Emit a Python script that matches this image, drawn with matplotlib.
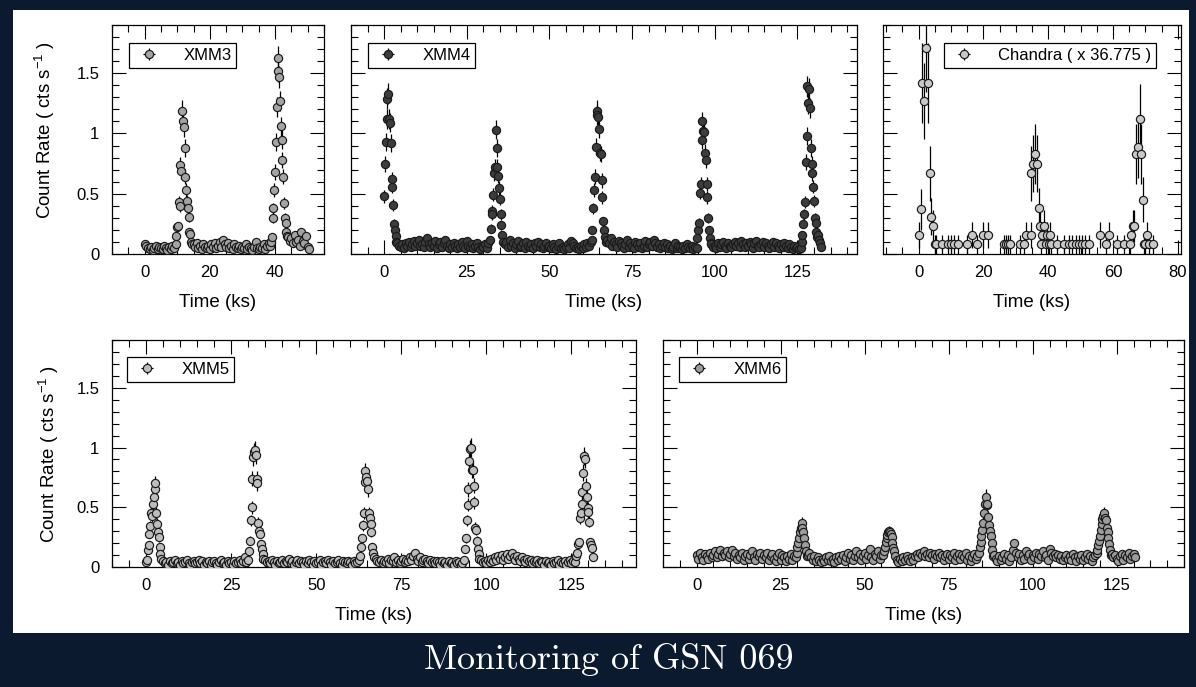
"""
GSN 069 quasi-periodic eruptions: XMM-Newton and Chandra light curves.
"""

import numpy as np
import matplotlib
matplotlib.use("Agg")
import matplotlib.pyplot as plt
from matplotlib.container import ErrorbarContainer
from matplotlib.legend_handler import HandlerErrorbar
from matplotlib.patches import Rectangle
from matplotlib.ticker import MultipleLocator, FuncFormatter

plt.rcParams["font.family"] = ["Liberation Sans", "DejaVu Sans"]
plt.rcParams["mathtext.fontset"] = "custom"
plt.rcParams["mathtext.rm"] = "Liberation Sans"
plt.rcParams["mathtext.it"] = "Liberation Sans:italic"
plt.rcParams["mathtext.default"] = "regular"

W, H = 1196, 687
NAVY = "#0b1a2f"

# counting statistics used for the error bars
XMM_BIN_S = 170.0
CHANDRA_BIN_S = 480.0
CHANDRA_SCALE = 36.775

QUIET_DT = 0.5   # ks, quiescent sampling (None = inside an eruption)
QPE_DT = 0.25    # ks, sampling inside the eruptions

# ---------------- XMM3 ----------------
xmm3_quiet = [
    0.08, 0.07, 0.05, 0.04, 0.06, 0.03, 0.05, 0.07, 0.04, 0.06,   # 0
    0.05, 0.04, 0.07, 0.05, 0.03, 0.06, 0.04, 0.07, 0.05, None,   # 5
    None, None, None, None, None, None, None, None, None, None,   # 10
    0.08, 0.06, 0.09, 0.05, 0.07, 0.04, 0.08, 0.06, 0.05, 0.07,   # 15
    0.04, 0.08, 0.06, 0.09, 0.05, 0.07, 0.10, 0.06, 0.12, 0.08,   # 20
    0.06, 0.09, 0.05, 0.07, 0.04, 0.08, 0.06, 0.05, 0.07, 0.04,   # 25
    0.06, 0.05, 0.08, 0.04, 0.06, 0.05, 0.03, 0.06, 0.10, 0.05,   # 30
    0.04, 0.06, 0.05, 0.08, 0.04, 0.07, 0.09, None, None, None,   # 35
    None, None, None, None, None, None, None, None, 0.14, 0.11,   # 40
    0.13, 0.09, 0.16, 0.10, 0.12, 0.07, 0.18, 0.11, 0.09, 0.15,   # 45
    0.06, 0.04,                                                   # 50
]
xmm3_qpe_start = [9.5, 38.5]
xmm3_qpe_rate = [
    [0.08, 0.15, 0.22, 0.23, 0.43, 0.40, 0.74, 0.69, 1.19, 1.10, 1.05,
     0.88, 0.64, 0.53, 0.44, 0.38, 0.31, 0.18, 0.17, 0.10, 0.08],
    [0.07, 0.10, 0.14, 0.38, 0.30, 0.53, 0.68, 0.93, 1.22, 1.52, 1.63,
     1.47, 1.27, 1.06, 0.95, 0.78, 0.64, 0.42, 0.30, 0.26, 0.18, 0.15],
]

# ---------------- XMM4 ----------------
xmm4_quiet = [
    None, None, None, None, None, None, None, None, 0.09, 0.07,   # 0
    0.06, 0.08, 0.05, 0.09, 0.07, 0.10, 0.06, 0.08, 0.11, 0.07,   # 5
    0.09, 0.12, 0.07, 0.08, 0.06, 0.10, 0.13, 0.08, 0.06, 0.09,   # 10
    0.07, 0.11, 0.05, 0.08, 0.10, 0.06, 0.09, 0.12, 0.07, 0.05,   # 15
    0.08, 0.06, 0.09, 0.07, 0.05, 0.08, 0.06, 0.10, 0.07, 0.05,   # 20
    0.11, 0.07, 0.06, 0.08, 0.05, 0.07, 0.09, 0.06, 0.04, 0.07,   # 25
    0.06, 0.08, 0.05, 0.09, None, None, None, None, None, None,   # 30
    None, None, None, 0.08, 0.10, 0.06, 0.12, 0.07, 0.09, 0.05,   # 35
    0.08, 0.11, 0.06, 0.07, 0.09, 0.05, 0.10, 0.07, 0.06, 0.08,   # 40
    0.05, 0.09, 0.07, 0.10, 0.06, 0.08, 0.05, 0.07, 0.09, 0.06,   # 45
    0.07, 0.05, 0.08, 0.06, 0.04, 0.07, 0.09, 0.05, 0.06, 0.04,   # 50
    0.06, 0.08, 0.05, 0.11, 0.09, 0.07, 0.05, 0.06, 0.04, 0.07,   # 55
    0.05, 0.08, 0.06, 0.09, 0.07, 0.10, None, None, None, None,   # 60
    None, None, None, None, None, 0.12, 0.09, 0.13, 0.07, 0.10,   # 65
    0.08, 0.06, 0.11, 0.09, 0.07, 0.05, 0.08, 0.12, 0.06, 0.09,   # 70
    0.07, 0.05, 0.10, 0.08, 0.06, 0.09, 0.05, 0.07, 0.11, 0.06,   # 75
    0.08, 0.10, 0.07, 0.12, 0.09, 0.06, 0.08, 0.05, 0.07, 0.09,   # 80
    0.06, 0.08, 0.05, 0.07, 0.04, 0.06, 0.09, 0.05, 0.07, 0.06,   # 85
    0.04, 0.07, 0.05, 0.08, 0.06, 0.05, 0.07, 0.04, 0.06, 0.05,   # 90
    None, None, None, None, None, None, None, None, 0.08, 0.06,   # 95
    0.07, 0.05, 0.09, 0.06, 0.08, 0.10, 0.07, 0.05, 0.09, 0.07,   # 100
    0.06, 0.08, 0.10, 0.07, 0.09, 0.06, 0.11, 0.08, 0.06, 0.09,   # 105
    0.07, 0.10, 0.08, 0.05, 0.09, 0.11, 0.07, 0.06, 0.08, 0.10,   # 110
    0.06, 0.09, 0.07, 0.05, 0.08, 0.10, 0.06, 0.09, 0.07, 0.05,   # 115
    0.08, 0.06, 0.09, 0.07, 0.05, 0.08, 0.06, 0.04, 0.07, 0.05,   # 120
    0.06, 0.04,                                                   # 125
]
xmm4_qpe_start = [0.0, 32.0, 62.75, 94.75, 126.0]
xmm4_qpe_rate = [
    [0.48, 0.75, 0.93, 1.12, 1.29, 1.33, 1.12, 1.09, 0.92, 0.62, 0.56,
     0.41, 0.25, 0.20, 0.15, 0.10],
    [0.12, 0.21, 0.36, 0.33, 0.49, 0.67, 0.72, 1.03, 0.88, 0.72, 0.65,
     0.55, 0.46, 0.33, 0.24, 0.16, 0.10],
    [0.12, 0.20, 0.38, 0.53, 0.64, 0.89, 1.19, 1.15, 1.14, 1.04, 0.84,
     0.83, 0.61, 0.47, 0.27, 0.20, 0.14, 0.10],
    [0.13, 0.20, 0.26, 0.51, 0.58, 0.95, 1.10, 1.02, 1.01, 0.84, 0.78,
     0.58, 0.47, 0.30, 0.20, 0.13, 0.09],
    [0.05, 0.10, 0.16, 0.25, 0.33, 0.43, 0.76, 0.98, 1.39, 1.25, 1.37,
     1.21, 0.88, 0.75, 0.67, 0.56, 0.44, 0.30, 0.26, 0.18, 0.14, 0.16,
     0.12, 0.09, 0.06],
]

# ---------------- XMM5 ----------------
xmm5_quiet = [
    None, None, None, None, None, None, None, None, None, None,   # 0
    0.05, 0.03, 0.04, 0.02, 0.05, 0.03, 0.04, 0.06, 0.03, 0.04,   # 5
    0.02, 0.05, 0.03, 0.04, 0.06, 0.03, 0.02, 0.04, 0.05, 0.03,   # 10
    0.04, 0.06, 0.03, 0.05, 0.02, 0.04, 0.03, 0.05, 0.02, 0.04,   # 15
    0.05, 0.03, 0.02, 0.04, 0.06, 0.03, 0.04, 0.02, 0.05, 0.03,   # 20
    0.04, 0.02, 0.05, 0.03, 0.04, 0.06, 0.03, 0.05, 0.08, 0.04,   # 25
    None, None, None, None, None, None, None, None, None, None,   # 30
    0.06, 0.04, 0.05, 0.03, 0.06, 0.04, 0.02, 0.05, 0.03, 0.04,   # 35
    0.06, 0.03, 0.05, 0.04, 0.07, 0.03, 0.05, 0.02, 0.04, 0.06,   # 40
    0.03, 0.05, 0.04, 0.02, 0.05, 0.03, 0.06, 0.04, 0.02, 0.05,   # 45
    0.03, 0.04, 0.06, 0.02, 0.04, 0.05, 0.03, 0.06, 0.04, 0.02,   # 50
    0.05, 0.03, 0.04, 0.06, 0.03, 0.02, 0.05, 0.04, 0.03, 0.05,   # 55
    0.04, 0.02, 0.05, 0.03, 0.04, 0.06, None, None, None, None,   # 60
    None, None, None, None, None, 0.07, 0.05, 0.04, 0.06, 0.03,   # 65
    0.05, 0.04, 0.07, 0.03, 0.06, 0.05, 0.08, 0.04, 0.06, 0.03,   # 70
    0.05, 0.07, 0.04, 0.06, 0.05, 0.08, 0.06, 0.09, 0.12, 0.07,   # 75
    0.05, 0.08, 0.04, 0.06, 0.07, 0.05, 0.03, 0.06, 0.04, 0.05,   # 80
    0.03, 0.05, 0.04, 0.02, 0.05, 0.03, 0.04, 0.02, 0.05, 0.03,   # 85
    0.04, 0.02, 0.05, 0.03, 0.04, 0.02, 0.03, None, None, None,   # 90
    None, None, None, None, None, None, None, 0.06, 0.04, 0.05,   # 95
    0.03, 0.06, 0.04, 0.07, 0.05, 0.08, 0.06, 0.09, 0.07, 0.10,   # 100
    0.06, 0.08, 0.11, 0.07, 0.09, 0.12, 0.08, 0.06, 0.09, 0.07,   # 105
    0.05, 0.08, 0.06, 0.04, 0.07, 0.05, 0.06, 0.03, 0.05, 0.04,   # 110
    0.06, 0.03, 0.05, 0.04, 0.02, 0.05, 0.03, 0.04, 0.02, 0.05,   # 115
    0.03, 0.04, 0.06, 0.02, 0.04, 0.03, 0.05, 0.02, 0.04, 0.06,   # 120
    0.03, 0.05, 0.04,                                             # 125
]
xmm5_qpe_start = [0.0, 30.0, 63.0, 93.5, 126.5]
xmm5_qpe_rate = [
    [0.04, 0.06, 0.14, 0.18, 0.28, 0.34, 0.45, 0.43, 0.53, 0.59, 0.65,
     0.70, 0.45, 0.36, 0.29, 0.25, 0.17, 0.11, 0.07],
    [0.06, 0.13, 0.22, 0.39, 0.50, 0.74, 0.92, 0.96, 0.98, 0.94, 0.74,
     0.70, 0.37, 0.30, 0.28, 0.19, 0.15, 0.11, 0.07],
    [0.09, 0.17, 0.24, 0.35, 0.45, 0.71, 0.80, 0.75, 0.72, 0.65, 0.45,
     0.41, 0.36, 0.29, 0.17, 0.12, 0.08],
    [0.06, 0.15, 0.24, 0.39, 0.52, 0.65, 0.89, 0.99, 1.00, 0.81, 0.81,
     0.68, 0.54, 0.33, 0.31, 0.22, 0.15, 0.11, 0.07],
    [0.09, 0.12, 0.19, 0.21, 0.41, 0.45, 0.53, 0.63, 0.79, 0.93, 0.90,
     0.68, 0.59, 0.49, 0.46, 0.38, 0.21, 0.18, 0.16, 0.08],
]

# ---------------- XMM6 ----------------
xmm6_quiet = [
    0.10, 0.07, 0.12, 0.08, 0.06, 0.11, 0.09, 0.07, 0.12, 0.08,   # 0
    0.10, 0.13, 0.08, 0.11, 0.14, 0.09, 0.12, 0.10, 0.13, 0.08,   # 5
    0.11, 0.14, 0.09, 0.12, 0.07, 0.10, 0.08, 0.12, 0.06, 0.09,   # 10
    0.11, 0.07, 0.10, 0.13, 0.08, 0.06, 0.11, 0.09, 0.12, 0.07,   # 15
    0.10, 0.08, 0.12, 0.06, 0.09, 0.11, 0.07, 0.05, 0.09, 0.12,   # 20
    0.06, 0.10, 0.08, 0.05, 0.09, 0.07, 0.11, 0.06, 0.09, None,   # 25
    None, None, None, None, None, None, 0.10, 0.12, 0.08, 0.06,   # 30
    0.09, 0.05, 0.08, 0.06, 0.04, 0.07, 0.05, 0.08, 0.06, 0.09,   # 35
    0.05, 0.07, 0.04, 0.08, 0.06, 0.09, 0.07, 0.10, 0.05, 0.08,   # 40
    0.12, 0.07, 0.10, 0.06, 0.09, 0.13, 0.08, 0.11, 0.06, 0.09,   # 45
    0.12, 0.07, 0.10, 0.15, 0.08, 0.06, 0.11, 0.09, 0.13, 0.07,   # 50
    0.10, None, None, None, None, None, None, None, None, 0.06,   # 55
    0.04, 0.07, 0.05, 0.08, 0.06, 0.09, 0.07, 0.05, 0.08, 0.06,   # 60
    0.09, 0.11, 0.08, 0.12, 0.10, 0.13, 0.09, 0.11, 0.08, 0.12,   # 65
    0.10, 0.07, 0.11, 0.09, 0.12, 0.08, 0.10, 0.06, 0.09, 0.11,   # 70
    0.07, 0.10, 0.08, 0.12, 0.06, 0.09, 0.11, 0.07, 0.10, 0.08,   # 75
    0.12, 0.06, 0.09, 0.05, 0.08, 0.11, 0.07, 0.09, None, None,   # 80
    None, None, None, None, None, None, None, 0.10, 0.07, 0.05,   # 85
    0.09, 0.06, 0.08, 0.11, 0.07, 0.10, 0.05, 0.08, 0.14, 0.20,   # 90
    0.12, 0.08, 0.11, 0.06, 0.10, 0.07, 0.13, 0.09, 0.11, 0.06,   # 95
    0.10, 0.08, 0.12, 0.07, 0.11, 0.09, 0.13, 0.08, 0.10, 0.06,   # 100
    0.15, 0.12, 0.09, 0.11, 0.08, 0.10, 0.07, 0.09, 0.06, 0.08,   # 105
    0.10, 0.07, 0.09, 0.06, 0.11, 0.08, 0.05, 0.09, 0.07, 0.10,   # 110
    0.06, 0.08, 0.11, 0.07, 0.09, 0.05, 0.08, 0.10, None, None,   # 115
    None, None, None, None, None, None, None, 0.11, 0.08, 0.10,   # 120
    0.07, 0.05, 0.09, 0.11, 0.06, 0.10, 0.08, 0.12, 0.07, 0.09,   # 125
    0.11, 0.08,                                                   # 130
]
xmm6_qpe_start = [29.5, 55.5, 84.0, 119.0]
xmm6_qpe_rate = [
    [0.08, 0.12, 0.17, 0.20, 0.24, 0.29, 0.33, 0.37, 0.33, 0.29, 0.24,
     0.18, 0.13, 0.09],
    [0.10, 0.13, 0.17, 0.21, 0.24, 0.27, 0.29, 0.30, 0.29, 0.28, 0.25,
     0.20, 0.16, 0.13, 0.09],
    [0.12, 0.17, 0.21, 0.26, 0.31, 0.37, 0.45, 0.53, 0.59, 0.52, 0.53,
     0.42, 0.35, 0.30, 0.26, 0.20, 0.14, 0.09],
    [0.12, 0.14, 0.18, 0.22, 0.26, 0.31, 0.36, 0.40, 0.43, 0.45, 0.41,
     0.39, 0.33, 0.29, 0.24, 0.19, 0.14, 0.10],
]

# ---------------- Chandra (rates already multiplied by 36.775) ----------------
chandra_time = [
    0.0, 0.8, 1.1, 1.6, 2.4, 3.0, 3.5, 3.9, 4.4, 4.9, 5.5, 7.3, 9.1, 9.9,
    10.9, 12.3, 14.8, 16.6, 18.1, 19.8, 21.5, 26.5, 27.0, 27.5, 28.1, 31.3,
    32.5, 33.0, 34.6, 34.8, 35.4, 35.9, 36.6, 37.1, 37.6, 37.8, 38.2, 38.7,
    39.2, 39.7, 40.2, 40.7, 40.9, 42.6, 44.8, 46.4, 47.5, 48.5, 49.5, 50.5,
    51.5, 52.6, 56.0, 57.7, 58.7, 61.1, 63.4, 65.2, 65.6, 66.1, 66.6, 67.2,
    67.7, 68.3, 68.8, 69.3, 69.5, 69.9, 70.6, 71.1, 72.4,
]
chandra_rate = [
    0.155, 0.37, 1.42, 1.27, 1.71, 1.42, 0.67, 0.31, 0.23, 0.08, 0.08, 0.08,
    0.08, 0.08, 0.08, 0.08, 0.08, 0.155, 0.08, 0.155, 0.155, 0.08, 0.08, 0.08,
    0.08, 0.08, 0.08, 0.155, 0.155, 0.67, 0.75, 0.83, 0.75, 0.38, 0.23, 0.08,
    0.155, 0.23, 0.08, 0.155, 0.08, 0.155, 0.08, 0.08, 0.08, 0.08, 0.08, 0.08,
    0.08, 0.08, 0.08, 0.08, 0.155, 0.08, 0.155, 0.08, 0.08, 0.08, 0.155, 0.23,
    0.23, 0.83, 0.89, 1.12, 0.83, 0.45, 0.08, 0.08, 0.155, 0.08, 0.08,
]


def light_curve(quiet, qpe_start, qpe_rate):
    t = QUIET_DT * np.arange(len(quiet))
    v = np.array([np.nan if r is None else r for r in quiet], dtype=float)
    ok = ~np.isnan(v)
    ts, vs = [t[ok]], [v[ok]]
    for t0, rates in zip(qpe_start, qpe_rate):
        ts.append(t0 + QPE_DT * np.arange(len(rates)))
        vs.append(np.asarray(rates, dtype=float))
    t = np.concatenate(ts)
    v = np.concatenate(vs)
    order = np.argsort(t, kind="stable")
    return t[order], v[order]


fig = plt.figure(figsize=(W / 100, H / 100), dpi=100, facecolor=NAVY)
fig.add_artist(Rectangle((13 / W, 1 - 633 / H), (1189 - 13) / W, (633 - 10) / H,
                         transform=fig.transFigure, facecolor="white",
                         edgecolor="none", zorder=0))


def px_axes(x0, x1, y0, y1):
    return fig.add_axes([x0 / W, 1 - y1 / H, (x1 - x0) / W, (y1 - y0) / H])


def style(ax, xlim, xmajor, show_y):
    ax.set_xlim(*xlim)
    ax.set_ylim(0, 1.9)
    ax.xaxis.set_major_locator(MultipleLocator(xmajor))
    ax.xaxis.set_minor_locator(MultipleLocator(5))
    ax.yaxis.set_major_locator(MultipleLocator(0.5))
    ax.yaxis.set_minor_locator(MultipleLocator(0.1))
    ax.yaxis.set_major_formatter(FuncFormatter(lambda v, _: f"{v:g}"))
    ax.tick_params(which="both", direction="in", top=True, right=True,
                   width=0.8, labelsize=12)
    ax.tick_params(which="major", length=10)
    ax.tick_params(which="minor", length=5)
    ax.tick_params(axis="x", pad=8)
    ax.tick_params(axis="y", pad=9, labelleft=show_y)
    for s in ax.spines.values():
        s.set_linewidth(0.9)
    ax.set_xlabel("Time (ks)", fontsize=13.5, labelpad=10)


def add_legend(ax, corner, dx, dy):
    bb = ax.get_position()
    aw, ah = bb.width * W, bb.height * H
    x = dx / aw if corner == "upper left" else 1 - dx / aw
    leg = ax.legend(loc=corner, bbox_to_anchor=(x, 1 - dy / ah),
                    borderaxespad=0, fancybox=False, framealpha=1,
                    fontsize=12, borderpad=0.3, handlelength=1.8,
                    handletextpad=1.15, numpoints=1,
                    handler_map={ErrorbarContainer: HandlerErrorbar(xerr_size=0.36)})
    leg.get_frame().set_edgecolor("black")
    leg.get_frame().set_linewidth(0.9)


def draw(ax, t, v, err, xerr, face, label):
    ax.errorbar(t, v, yerr=err, xerr=xerr, fmt="o", ms=5.9, mfc=face,
                mec="#1a1a1a", mew=0.85, ecolor="black", elinewidth=0.9,
                capsize=0, label=label, zorder=3)


YLABEL = "Count Rate ( cts s$^{-1}$ )"
xmm_xerr = XMM_BIN_S / 2000.0

# top row
ax3 = px_axes(112, 324, 25, 254)
t, v = light_curve(xmm3_quiet, xmm3_qpe_start, xmm3_qpe_rate)
draw(ax3, t, v, np.sqrt(v / XMM_BIN_S), xmm_xerr, "#a3a3a3", "XMM3")
style(ax3, (-10, 55), 20, True)
ax3.set_ylabel(YLABEL, fontsize=13.5)
ax3.yaxis.set_label_coords(-(112 - 57) / 212, 0.54)
add_legend(ax3, "upper left", 17, 18)

ax4 = px_axes(351, 857, 25, 254)
t, v = light_curve(xmm4_quiet, xmm4_qpe_start, xmm4_qpe_rate)
draw(ax4, t, v, np.sqrt(v / XMM_BIN_S), xmm_xerr, "#3c3c3c", "XMM4")
style(ax4, (-10, 143), 25, False)
add_legend(ax4, "upper left", 17, 18)

axc = px_axes(883, 1181, 25, 254)
tc = np.array(chandra_time)
vc = np.array(chandra_rate)
draw(axc, tc, vc, np.sqrt(vc * CHANDRA_SCALE / CHANDRA_BIN_S),
     CHANDRA_BIN_S / 2000.0, "#c8c8c8", "Chandra ( x 36.775 )")
style(axc, (-11, 81), 20, False)
add_legend(axc, "upper right", 25, 18)

# bottom row
ax5 = px_axes(112, 636, 340, 567)
t, v = light_curve(xmm5_quiet, xmm5_qpe_start, xmm5_qpe_rate)
draw(ax5, t, v, np.sqrt(v / XMM_BIN_S), xmm_xerr, "#bdbdbd", "XMM5")
style(ax5, (-10, 144), 25, True)
ax5.set_ylabel(YLABEL, fontsize=13.5)
ax5.yaxis.set_label_coords(-(112 - 61) / 524, 0.5)
add_legend(ax5, "upper left", 15, 17)

ax6 = px_axes(663, 1184, 340, 567)
t, v = light_curve(xmm6_quiet, xmm6_qpe_start, xmm6_qpe_rate)
draw(ax6, t, v, np.sqrt(v / XMM_BIN_S), xmm_xerr, "#9c9c9c", "XMM6")
style(ax6, (-10, 145), 25, False)
add_legend(ax6, "upper left", 16, 17)

fig.text(609 / W, 1 - 660 / H, "Monitoring of GSN 069", color="white",
         fontsize=26, family="cmr10", ha="center", va="center")

fig.savefig("out.png", dpi=100, facecolor=NAVY)
